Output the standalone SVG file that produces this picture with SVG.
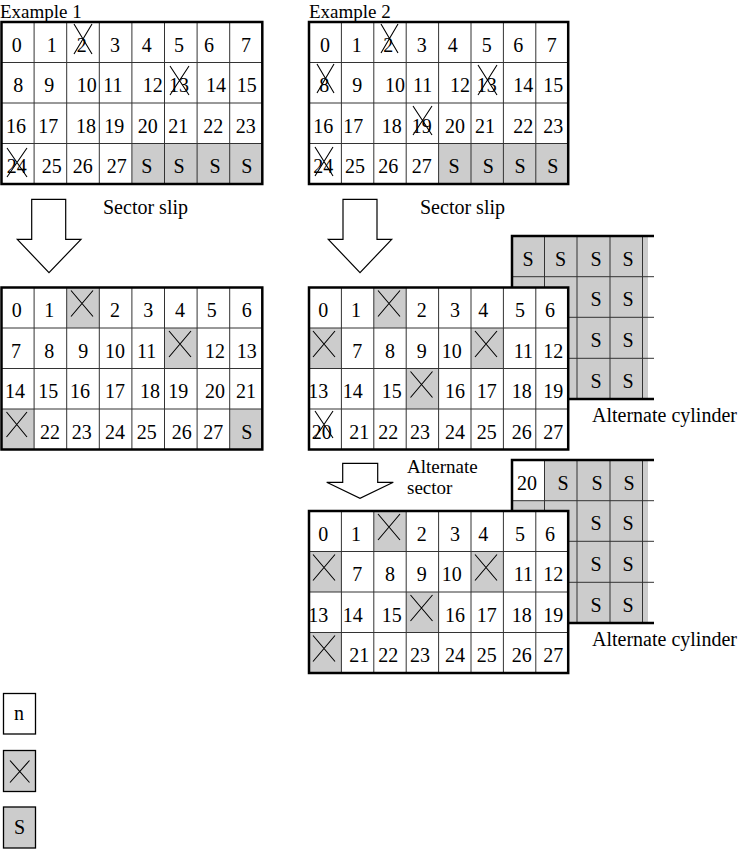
<svg xmlns="http://www.w3.org/2000/svg" xmlns:xlink="http://www.w3.org/1999/xlink" width="738" height="850" viewBox="0 0 738 850">
<style>
text{font-family:"Liberation Serif","Times New Roman",serif;font-size:20px;fill:#000}
.t{text-anchor:middle}
.s19{font-size:19px}
.g{fill:#cccccc;stroke:none}
.w{fill:#ffffff;stroke:none}
.in{fill:none;stroke:#333;stroke-width:1}
.out{fill:none;stroke:#000;stroke-width:2.5}
.x{fill:none;stroke:#000;stroke-width:1.1}
.arr{fill:#fff;stroke:#000;stroke-width:1.2;stroke-linejoin:miter}
.lg{stroke:#000;stroke-width:1.3}
</style>
<defs>
<g id="linesA">
<path class="in" d="M32.6 0V162M65.2 0V162M97.8 0V162M130.4 0V162M163 0V162M195.6 0V162M228.2 0V162M0 40.5H260.8M0 81H260.8M0 121.5H260.8"/>
<rect class="out" x="0" y="0" width="260.8" height="162"/>
</g>
<g id="linesB">
<path class="in" d="M32.4 0V162M64.8 0V162M97.2 0V162M129.6 0V162M162 0V162M194.4 0V162M226.8 0V162M0 40.5H259.2M0 81H259.2M0 121.5H259.2"/>
<rect class="out" x="0" y="0" width="259.2" height="162"/>
</g>
</defs>

<g id="titles">
<text class="s19" x="0" y="17.5">Example 1</text>
<text class="s19" x="309" y="17.5">Example 2</text>
</g>

<g id="grid1">
<g transform="translate(1.5,22)">
<rect class="w" x="0" y="0" width="260.8" height="162"/>
<rect class="g" x="130.4" y="121.5" width="130.4" height="40.5"/>
<use xlink:href="#linesA"/>
</g>
<text class="t" x="16.7" y="51.5">0</text><text class="t" x="51.7" y="51.5">1</text><text class="t" x="81.7" y="51.5">2</text><text class="t" x="115" y="51.5">3</text><text class="t" x="146.7" y="51.5">4</text><text class="t" x="179" y="51.5">5</text><text class="t" x="209" y="51.5">6</text><text class="t" x="246" y="51.5">7</text>
<text class="t" x="18.3" y="92">8</text><text class="t" x="49.3" y="92">9</text><text class="t" x="86.7" y="92">10</text><text class="t" x="113" y="92">11</text><text class="t" x="152.7" y="92">12</text><text class="t" x="179" y="92">13</text><text class="t" x="216" y="92">14</text><text class="t" x="246.7" y="92">15</text>
<text class="t" x="16" y="132.5">16</text><text class="t" x="48.3" y="132.5">17</text><text class="t" x="86" y="132.5">18</text><text class="t" x="114.3" y="132.5">19</text><text class="t" x="147.7" y="132.5">20</text><text class="t" x="178.3" y="132.5">21</text><text class="t" x="213.3" y="132.5">22</text><text class="t" x="245.7" y="132.5">23</text>
<text class="t" x="16.7" y="173">24</text><text class="t" x="51.7" y="173">25</text><text class="t" x="82.7" y="173">26</text><text class="t" x="116.7" y="173">27</text><text class="t" x="146.7" y="173">S</text><text class="t" x="179" y="173">S</text><text class="t" x="215" y="173">S</text><text class="t" x="246.7" y="173">S</text>
<path class="x" d="M74 24L92 54M92 24L74 54M170 66L189 95M189 66L170 95M7 148L27 177M27 148L7 177"/>
</g>

<g id="grid2">
<g transform="translate(309,22)">
<rect class="w" x="0" y="0" width="259.2" height="162"/>
<rect class="g" x="129.6" y="121.5" width="129.6" height="40.5"/>
<use xlink:href="#linesB"/>
</g>
<text class="t" x="325" y="51.5">0</text><text class="t" x="356.7" y="51.5">1</text><text class="t" x="388.3" y="51.5">2</text><text class="t" x="421.7" y="51.5">3</text><text class="t" x="452.7" y="51.5">4</text><text class="t" x="486.7" y="51.5">5</text><text class="t" x="518.3" y="51.5">6</text><text class="t" x="551.7" y="51.5">7</text>
<text class="t" x="324.3" y="92">8</text><text class="t" x="357.3" y="92">9</text><text class="t" x="395" y="92">10</text><text class="t" x="422.7" y="92">11</text><text class="t" x="460" y="92">12</text><text class="t" x="486.7" y="92">13</text><text class="t" x="523.3" y="92">14</text><text class="t" x="553.3" y="92">15</text>
<text class="t" x="323.3" y="132.5">16</text><text class="t" x="353.3" y="132.5">17</text><text class="t" x="391.7" y="132.5">18</text><text class="t" x="421.7" y="132.5">19</text><text class="t" x="455" y="132.5">20</text><text class="t" x="485" y="132.5">21</text><text class="t" x="523.3" y="132.5">22</text><text class="t" x="553.3" y="132.5">23</text>
<text class="t" x="323.3" y="173">24</text><text class="t" x="355" y="173">25</text><text class="t" x="388.3" y="173">26</text><text class="t" x="421.7" y="173">27</text><text class="t" x="454" y="173">S</text><text class="t" x="488.3" y="173">S</text><text class="t" x="520" y="173">S</text><text class="t" x="552.7" y="173">S</text>
<path class="x" d="M381 24L398 53M398 24L381 53M317 64L334 93M334 64L317 93M478 65L497 95M497 65L478 95M413 106L432 135M432 106L413 135M315 147L333 176M333 147L315 176"/>
</g>

<g id="connectors">
<polygon class="arr" points="31.7,199.3 65.7,199.3 65.7,239.3 81,239.3 49,272.7 17.3,239.3 31.7,239.3"/>
<polygon class="arr" points="343,199.3 377,199.3 377,239.3 391.7,239.3 360,272.7 328.3,239.3 343,239.3"/>
<polygon class="arr" points="342.7,463.3 377.7,463.3 377.7,482.3 393.3,482.3 360,498.3 326.7,482.3 342.7,482.3"/>
</g>

<g id="labels">
<text x="103" y="214">Sector slip</text>
<text x="420" y="214">Sector slip</text>
<text class="s19" x="407" y="473">Alternate</text>
<text class="s19" x="407" y="494">sector</text>
<text x="592" y="422">Alternate cylinder</text>
<text x="592" y="646">Alternate cylinder</text>
</g>

<g id="altcyl1">
<rect class="g" x="512" y="236" width="136" height="163"/>
<path class="in" d="M544.5 236V399M577 236V399M610 236V399M642.5 236V399M512 276.7H654M512 317.3H654M512 358.3H654"/>
<path class="out" d="M654 236H512V399H654"/>
<text class="t" x="528" y="265.5">S</text><text class="t" x="560.5" y="265.5">S</text><text class="t" x="596" y="265.5">S</text><text class="t" x="628" y="265.5">S</text>
<text class="t" x="596" y="306">S</text><text class="t" x="628" y="306">S</text>
<text class="t" x="596" y="347">S</text><text class="t" x="628" y="347">S</text>
<text class="t" x="596" y="388">S</text><text class="t" x="628" y="388">S</text>
</g>

<g id="altcyl2">
<rect class="g" x="512" y="460" width="136" height="163"/>
<rect class="w" x="512" y="460" width="32.5" height="40.7"/>
<path class="in" d="M544.5 460V623M577 460V623M610 460V623M642.5 460V623M512 500.7H654M512 541.3H654M512 582.3H654"/>
<path class="out" d="M654 460H512V623H654"/>
<text class="t" x="527" y="489.5">20</text><text class="t" x="563" y="489.5">S</text><text class="t" x="597" y="489.5">S</text><text class="t" x="629" y="489.5">S</text>
<text class="t" x="596" y="530">S</text><text class="t" x="628" y="530">S</text>
<text class="t" x="596" y="571">S</text><text class="t" x="628" y="571">S</text>
<text class="t" x="596" y="612">S</text><text class="t" x="628" y="612">S</text>
</g>

<g id="grid3">
<g transform="translate(1.5,287.5)">
<rect class="w" x="0" y="0" width="260.8" height="162"/>
<rect class="g" x="65.2" y="0" width="32.6" height="40.5"/>
<rect class="g" x="163" y="40.5" width="32.6" height="40.5"/>
<rect class="g" x="0" y="121.5" width="32.6" height="40.5"/>
<rect class="g" x="228.2" y="121.5" width="32.6" height="40.5"/>
<use xlink:href="#linesA"/>
</g>
<text class="t" x="16.7" y="317">0</text><text class="t" x="49.3" y="317">1</text><text class="t" x="115" y="317">2</text><text class="t" x="148.3" y="317">3</text><text class="t" x="180" y="317">4</text><text class="t" x="211.7" y="317">5</text><text class="t" x="246.7" y="317">6</text>
<text class="t" x="16" y="357.5">7</text><text class="t" x="49.3" y="357.5">8</text><text class="t" x="83.3" y="357.5">9</text><text class="t" x="115" y="357.5">10</text><text class="t" x="146.7" y="357.5">11</text><text class="t" x="215" y="357.5">12</text><text class="t" x="246.7" y="357.5">13</text>
<text class="t" x="15" y="398">14</text><text class="t" x="48.3" y="398">15</text><text class="t" x="80" y="398">16</text><text class="t" x="115" y="398">17</text><text class="t" x="150" y="398">18</text><text class="t" x="178.3" y="398">19</text><text class="t" x="215" y="398">20</text><text class="t" x="246" y="398">21</text>
<text class="t" x="50" y="438.5">22</text><text class="t" x="81.7" y="438.5">23</text><text class="t" x="115" y="438.5">24</text><text class="t" x="146.7" y="438.5">25</text><text class="t" x="181.7" y="438.5">26</text><text class="t" x="213.3" y="438.5">27</text><text class="t" x="246.7" y="438.5">S</text>
<path class="x" d="M71 290.5L93 316.5M93 290.5L71 316.5M169 331L191 357M191 331L169 357M6.5 412L27 437M27 412L6.5 437"/>
</g>

<g id="grid4">
<g transform="translate(309,287.5)">
<rect class="w" x="0" y="0" width="259.2" height="162"/>
<rect class="g" x="64.8" y="0" width="32.4" height="40.5"/>
<rect class="g" x="0" y="40.5" width="32.4" height="40.5"/>
<rect class="g" x="162" y="40.5" width="32.4" height="40.5"/>
<rect class="g" x="97.2" y="81" width="32.4" height="40.5"/>
<use xlink:href="#linesB"/>
</g>
<text class="t" x="323.3" y="317">0</text><text class="t" x="356" y="317">1</text><text class="t" x="421.7" y="317">2</text><text class="t" x="455" y="317">3</text><text class="t" x="483.3" y="317">4</text><text class="t" x="520" y="317">5</text><text class="t" x="550" y="317">6</text>
<text class="t" x="357.3" y="357.5">7</text><text class="t" x="390" y="357.5">8</text><text class="t" x="421.7" y="357.5">9</text><text class="t" x="451.7" y="357.5">10</text><text class="t" x="523.3" y="357.5">11</text><text class="t" x="553.3" y="357.5">12</text>
<text class="t" x="318.3" y="398">13</text><text class="t" x="352.7" y="398">14</text><text class="t" x="391.7" y="398">15</text><text class="t" x="455" y="398">16</text><text class="t" x="486.7" y="398">17</text><text class="t" x="521.7" y="398">18</text><text class="t" x="553.3" y="398">19</text>
<text class="t" x="321.7" y="438.5">20</text><text class="t" x="359.3" y="438.5">21</text><text class="t" x="388.3" y="438.5">22</text><text class="t" x="420" y="438.5">23</text><text class="t" x="455" y="438.5">24</text><text class="t" x="486.7" y="438.5">25</text><text class="t" x="521.7" y="438.5">26</text><text class="t" x="553.3" y="438.5">27</text>
<path class="x" d="M378 290.5L400 316.5M400 290.5L378 316.5M313 331L335 357M335 331L313 357M475 331L497 357M497 331L475 357M410.5 371.5L432.5 397.5M432.5 371.5L410.5 397.5M315 411L333 438M333 411L315 438"/>
</g>

<g id="grid5">
<g transform="translate(309,511)">
<rect class="w" x="0" y="0" width="259.2" height="162"/>
<rect class="g" x="64.8" y="0" width="32.4" height="40.5"/>
<rect class="g" x="0" y="40.5" width="32.4" height="40.5"/>
<rect class="g" x="162" y="40.5" width="32.4" height="40.5"/>
<rect class="g" x="97.2" y="81" width="32.4" height="40.5"/>
<rect class="g" x="0" y="121.5" width="32.4" height="40.5"/>
<use xlink:href="#linesB"/>
</g>
<text class="t" x="323.3" y="540.5">0</text><text class="t" x="356" y="540.5">1</text><text class="t" x="421.7" y="540.5">2</text><text class="t" x="455" y="540.5">3</text><text class="t" x="483.3" y="540.5">4</text><text class="t" x="520" y="540.5">5</text><text class="t" x="550" y="540.5">6</text>
<text class="t" x="357.3" y="581">7</text><text class="t" x="390" y="581">8</text><text class="t" x="421.7" y="581">9</text><text class="t" x="451.7" y="581">10</text><text class="t" x="523.3" y="581">11</text><text class="t" x="553.3" y="581">12</text>
<text class="t" x="318.3" y="621.5">13</text><text class="t" x="352.7" y="621.5">14</text><text class="t" x="391.7" y="621.5">15</text><text class="t" x="455" y="621.5">16</text><text class="t" x="486.7" y="621.5">17</text><text class="t" x="521.7" y="621.5">18</text><text class="t" x="553.3" y="621.5">19</text>
<text class="t" x="359.3" y="662">21</text><text class="t" x="388.3" y="662">22</text><text class="t" x="420" y="662">23</text><text class="t" x="455" y="662">24</text><text class="t" x="486.7" y="662">25</text><text class="t" x="521.7" y="662">26</text><text class="t" x="553.3" y="662">27</text>
<path class="x" d="M378 514L400 540M400 514L378 540M313 554.5L335 580.5M335 554.5L313 580.5M475 554.5L497 580.5M497 554.5L475 580.5M410.5 595L432.5 621M432.5 595L410.5 621M313 635.5L335 661.5M335 635.5L313 661.5"/>
</g>

<g id="legend-n">
<rect class="lg" x="3.5" y="693.5" width="32" height="40.5" fill="#fff"/>
<text class="t" x="19" y="720">n</text>
</g>
<g id="legend-x">
<rect class="lg" x="3.5" y="750.5" width="32" height="41" fill="#cccccc"/>
<path class="x" d="M10 760.5L29.5 782.5M29.5 760.5L10 782.5"/>
</g>
<g id="legend-s">
<rect class="lg" x="3.5" y="807" width="32" height="41" fill="#cccccc"/>
<text class="t" x="19.5" y="834">S</text>
</g>
</svg>
